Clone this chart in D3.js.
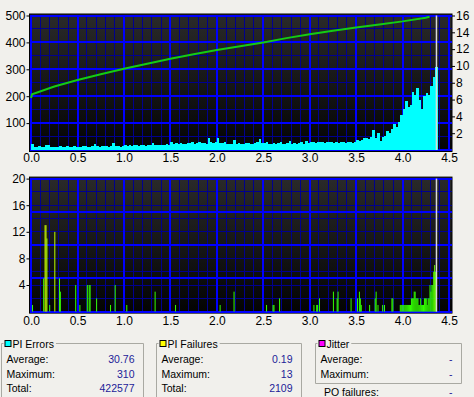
<!DOCTYPE html>
<html>
<head>
<meta charset="utf-8">
<script src="https://cdn.jsdelivr.net/npm/d3@7"></script>
<style>
  body { margin: 0; background: #f1f0ec; }
  svg { display: block; font-family: "Liberation Sans", Arial, sans-serif; }
</style>
</head>
<body>
<script>
const width = 474, height = 397;

// PI errors, one value every 0.025 from 0.0 to 4.35
const errStep = 0.025;
const piErrors = [
  22,13,12,14,11,12,19,18,13,12,11,13,15,12,11,14,12,13,16,12,
  13,12,15,14,12,13,14,22,14,13,16,14,15,13,14,26,15,14,13,16,
  17,16,18,15,17,19,16,18,17,16,19,17,26,18,17,20,18,17,21,19,
  28,23,25,22,26,24,23,27,25,31,24,26,30,25,27,24,45,28,26,30,
  44,27,25,30,23,24,22,36,24,26,24,23,27,25,22,24,26,29,40,27,
  26,30,24,23,26,23,25,28,24,23,26,34,24,27,23,25,29,24,33,27,
  28,29,27,30,28,31,27,29,28,30,27,28,26,29,28,27,30,28,27,29,
  37,33,36,43,45,41,48,74,45,64,35,50,52,72,64,77,97,84,105,130,
  152,182,161,167,217,205,229,186,152,200,211,204,238,272,310
];

// read speed (X), right axis
const speedX   = [0, 0.01, 0.25, 0.5, 0.75, 1.0, 1.25, 1.5, 1.75, 2.0, 2.25, 2.5, 2.75, 3.0, 3.25, 3.5, 3.75, 4.0, 4.25, 4.29];
const speedVal = [6.18, 6.62, 7.55, 8.32, 9.02, 9.66, 10.27, 10.85, 11.39, 11.90, 12.35, 12.80, 13.31, 13.76, 14.18, 14.56, 14.94, 15.30, 15.74, 15.85];

// PI failures (position, count), bins of 0.01
const failStep = 0.01;
const failX = [0.01, 0.13, 0.145, 0.155, 0.165, 0.195, 0.25, 0.30, 0.31, 0.475, 0.52, 0.60, 0.62, 0.63, 0.70, 0.85, 0.90, 1.025, 1.33, 1.55,
  2.03, 2.18, 2.53, 2.60, 2.61, 2.67, 3.04, 3.07, 3.08, 3.10, 3.25, 3.29, 3.30, 3.44, 3.51, 3.53, 3.54, 3.55, 3.64, 3.70, 3.71, 3.73, 3.78, 3.80, 3.88, 3.89,
  3.97, 3.98, 3.99, 4.00, 4.01, 4.02, 4.03, 4.04, 4.05, 4.06, 4.07, 4.08, 4.09, 4.10, 4.11, 4.12, 4.13, 4.14, 4.15, 4.16, 4.17, 4.18, 4.19,
  4.20, 4.21, 4.22, 4.23, 4.24, 4.25, 4.26, 4.27, 4.28, 4.29, 4.30, 4.31, 4.32, 4.33, 4.34, 4.35, 4.36];
const failVal = [1, 5, 13, 13, 11, 1, 12, 5, 3, 4, 1, 4, 4, 4, 2, 1, 4, 1, 3, 1,
  1, 3, 1, 1, 1, 2, 1, 1, 1, 2, 3, 2, 3, 2, 2, 3, 2, 1, 1, 2, 3, 1, 1, 1, 2, 2,
  1, 1, 1, 1, 1, 1, 1, 1, 1, 1, 1, 1, 2, 2, 2, 3, 3, 2, 2, 2, 1, 1, 2,
  1, 1, 1, 2, 2, 2, 1, 2, 2, 4, 3, 4, 4, 6, 7, 6, 6];

const discEnd = 4.365;

const xTicks = [0, 0.5, 1, 1.5, 2, 2.5, 3, 3.5, 4, 4.5];
const errTicks = [100, 200, 300, 400, 500];
const speedTicks = [2, 4, 6, 8, 10, 12, 14, 16];
const failTicks = [4, 8, 12, 16, 20];

const statLabels = ["Average:", "Maximum:", "Total:"];
const piErrorStats = ["30.76", "310", "422577"];
const piFailStats = ["0.19", "13", "2109"];
const jitterStats = ["-", "-"];
const poFailures = "-";

const svg = d3.select("body").append("svg")
  .attr("width", width)
  .attr("height", height);

const defs = svg.append("defs");
const grad = defs.append("linearGradient")
  .attr("id", "bg").attr("x1", 0).attr("y1", 0).attr("x2", 0).attr("y2", 1);
grad.append("stop").attr("offset", "0%").attr("stop-color", "#2a2a2a");
grad.append("stop").attr("offset", "100%").attr("stop-color", "#030303");

const x = d3.scaleLinear().domain([0, 4.5]).range([31.1, 449]);
const plotLeft = 29.5, plotRight = 452;

const yErr = d3.scaleLinear().domain([0, 500]).range([150, 15.5]);
const ySpeed = d3.scaleLinear().domain([0, 16]).range([150, 15.5]);
const yFail = d3.scaleLinear().domain([0, 20]).range([311.6, 178.6]);

function drawFrame(y) {
  const [b, t] = y.range();
  svg.append("rect")
    .attr("x", plotLeft).attr("y", t - 1.5)
    .attr("width", plotRight - plotLeft).attr("height", b - t + 3)
    .attr("fill", "url(#bg)")
    .attr("stroke", "#000").attr("stroke-width", 1);

  const g = svg.append("g").attr("shape-rendering", "crispEdges");
  // minor grid
  g.selectAll(".vmin").data(x.ticks(45)).join("line")
    .attr("x1", d => x(d)).attr("x2", d => x(d))
    .attr("y1", t).attr("y2", b)
    .attr("stroke", "#00008e").attr("stroke-width", 1);
  g.selectAll(".hmin").data(y.ticks(10)).join("line")
    .attr("x1", plotLeft).attr("x2", plotRight)
    .attr("y1", d => y(d)).attr("y2", d => y(d))
    .attr("stroke", "#00008e").attr("stroke-width", 1);
  // major grid
  g.selectAll(".vmaj").data(x.ticks(9)).join("line")
    .attr("x1", d => x(d)).attr("x2", d => x(d))
    .attr("y1", t).attr("y2", b)
    .attr("stroke", "#0000ff").attr("stroke-width", 2);
  g.selectAll(".hmaj").data(y.ticks(5)).join("line")
    .attr("x1", plotLeft).attr("x2", plotRight)
    .attr("y1", d => y(d)).attr("y2", d => y(d))
    .attr("stroke", "#0000ff").attr("stroke-width", 2);
}

function styleAxis(g) {
  g.select(".domain").remove();
  g.selectAll("line").attr("stroke", "#000");
  g.selectAll("text").attr("fill", "#000").style("font-size", "12px");
  g.attr("font-family", null);
}

// ---- top chart: PI errors + speed
drawFrame(yErr);

svg.append("g")
  .selectAll("rect")
  .data(piErrors)
  .join("rect")
  .attr("x", (d, i) => x(i * errStep))
  .attr("width", (d, i) => x((i + 1) * errStep) - x(i * errStep) + 0.3)
  .attr("y", d => yErr(d))
  .attr("height", d => yErr(0) - yErr(d))
  .attr("fill", "#00ffff")
  .attr("shape-rendering", "crispEdges");

const speedLine = d3.line()
  .x((d, i) => x(speedX[i]))
  .y(d => ySpeed(d));
svg.append("path")
  .attr("d", speedLine(speedVal))
  .attr("fill", "none")
  .attr("stroke", "#14cc14")
  .attr("stroke-width", 2);

svg.append("g")
  .attr("transform", `translate(${plotLeft},0)`)
  .call(d3.axisLeft(yErr).tickValues(errTicks).tickSize(3).tickPadding(1))
  .call(styleAxis);
svg.append("g")
  .attr("transform", `translate(${plotRight},0)`)
  .call(d3.axisRight(ySpeed).tickValues(speedTicks).tickSize(3).tickPadding(1))
  .call(styleAxis);
svg.append("g")
  .attr("transform", `translate(0,${yErr(0)})`)
  .call(d3.axisBottom(x).tickValues(xTicks).tickSize(0).tickPadding(3).tickFormat(d3.format(".1f")))
  .call(styleAxis);

// ---- bottom chart: PI failures
drawFrame(yFail);

const failColor = d3.scaleLinear().domain([4, 13]).range(["#33ff00", "#ccff00"]).clamp(true);
svg.append("g")
  .selectAll("rect")
  .data(failVal)
  .join("rect")
  .attr("x", (d, i) => x(failX[i]))
  .attr("width", (d, i) => Math.max(1, x(failX[i] + failStep) - x(failX[i])))
  .attr("y", d => yFail(d))
  .attr("height", d => yFail(0) - yFail(d))
  .attr("fill", d => failColor(d));

svg.append("g")
  .attr("transform", `translate(${plotLeft},0)`)
  .call(d3.axisLeft(yFail).tickValues(failTicks).tickSize(3).tickPadding(1))
  .call(styleAxis);
svg.append("g")
  .attr("transform", `translate(0,${yFail(0)})`)
  .call(d3.axisBottom(x).tickValues(xTicks).tickSize(0).tickPadding(5).tickFormat(d3.format(".1f")))
  .call(styleAxis);

// end-of-disc marker
[yErr, yFail].forEach(y => {
  svg.append("line")
    .attr("x1", x(discEnd)).attr("x2", x(discEnd))
    .attr("y1", y.range()[1]).attr("y2", y.range()[0])
    .attr("stroke", "#d8d8d8").attr("stroke-width", 1.5);
});

// ---- stat boxes
function statBox(x0, x1, yBottom, title, color, labels, values) {
  const g = svg.append("g").style("font-size", "10.5px");
  const top = 343.5;
  g.append("path")
    .attr("d", `M${x0},${yBottom} V${top} H${x1} V${yBottom}` + (yBottom < height ? ` H${x0}` : ""))
    .attr("fill", "none").attr("stroke", "#a9a9a2").attr("stroke-width", 1);
  const t = g.append("text").attr("x", x0 + 11).attr("y", top + 4)
    .attr("fill", "#000").text(title);
  const tw = t.node().getComputedTextLength();
  g.insert("rect", "text")
    .attr("x", x0 + 2).attr("y", top - 2).attr("width", tw + 11).attr("height", 4)
    .attr("fill", "#f1f0ec");
  g.append("rect")
    .attr("x", x0 + 3.5).attr("y", top - 3).attr("width", 6).attr("height", 6)
    .attr("fill", color).attr("stroke", "#000").attr("stroke-width", 1);
  labels.forEach((l, i) => {
    g.append("text").attr("x", x0 + 5).attr("y", 363 + i * 14.6).attr("fill", "#000").text(l);
    g.append("text").attr("x", x1 - 9).attr("y", 363 + i * 14.6)
      .attr("text-anchor", "end").attr("fill", "#1c1c98").text(values[i]);
  });
}

statBox(1.5, 143.5, 400, "PI Errors", "#00ffff", statLabels, piErrorStats);
statBox(156.5, 301.5, 400, "PI Failures", "#ffff00", statLabels, piFailStats);
statBox(315.5, 461.5, 383.5, "Jitter", "#ff00ff", statLabels.slice(0, 2), jitterStats);

svg.append("text").attr("x", 324).attr("y", 396).style("font-size", "10.5px").attr("fill", "#000").text("PO failures:");
svg.append("text").attr("x", 452.5).attr("y", 396).attr("text-anchor", "end").style("font-size", "10.5px").attr("fill", "#1c1c98").text(poFailures);
</script>
</body>
</html>
